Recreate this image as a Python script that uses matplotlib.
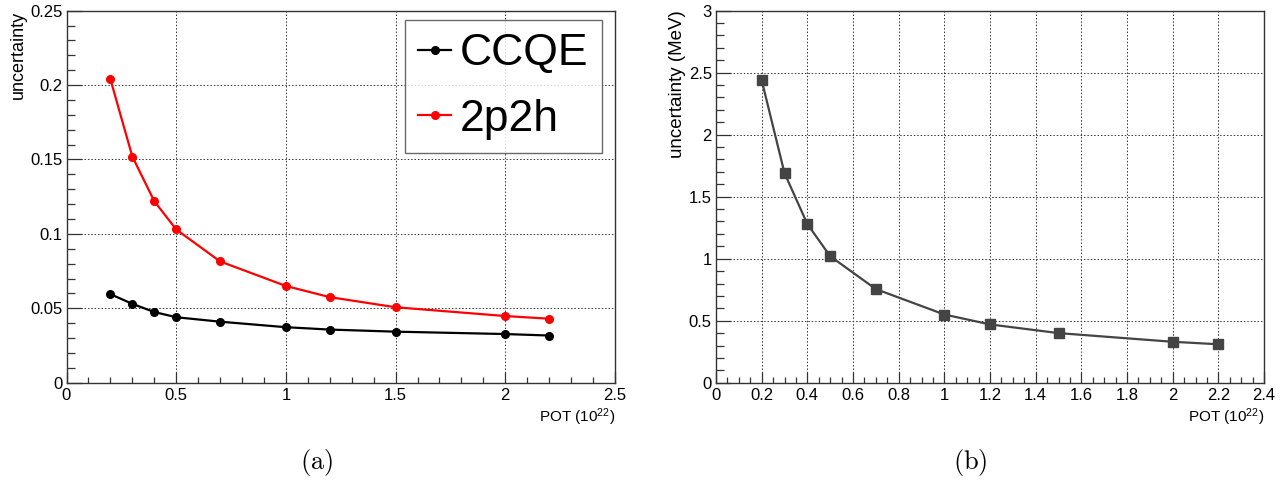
import numpy as np
import matplotlib
matplotlib.use("Agg")
import matplotlib.pyplot as plt
from matplotlib.ticker import MultipleLocator, FuncFormatter

plt.rcParams["font.family"] = ["Liberation Sans", "DejaVu Sans"]
plt.rcParams["mathtext.default"] = "regular"

# datos
pot = [0.2, 0.3, 0.4, 0.5, 0.7, 1.0, 1.2, 1.5, 2.0, 2.2]
ccqe = [0.0595, 0.053, 0.0475, 0.044, 0.041, 0.0373, 0.0357, 0.0343, 0.0327, 0.0317]
np2h = [0.204, 0.152, 0.122, 0.103, 0.0815, 0.065, 0.0575, 0.0507, 0.0448, 0.0430]
unc_mev = [2.44, 1.69, 1.28, 1.02, 0.755, 0.55, 0.47, 0.40, 0.33, 0.31]

fmt = FuncFormatter(lambda v, p: f"{v:g}")


def estilo_root(ax, xmaj, xmin, ymaj, ymin):
    ax.xaxis.set_major_locator(MultipleLocator(xmaj))
    ax.xaxis.set_minor_locator(MultipleLocator(xmin))
    ax.yaxis.set_major_locator(MultipleLocator(ymaj))
    ax.yaxis.set_minor_locator(MultipleLocator(ymin))
    ax.xaxis.set_major_formatter(fmt)
    ax.yaxis.set_major_formatter(fmt)
    ax.tick_params(which="both", direction="in", top=False, right=False,
                   labelsize=12, color="#333333", width=0.9)
    ax.tick_params(axis="x", which="major", length=8, pad=4)
    ax.tick_params(axis="x", which="minor", length=4)
    ax.tick_params(axis="y", which="major", length=11, pad=3)
    ax.tick_params(axis="y", which="minor", length=5.5)
    ax.grid(True, which="major", linestyle=(0, (1.5, 2)), color="#333333",
            linewidth=0.7)
    for s in ax.spines.values():
        s.set_color("#333333")
        s.set_linewidth(1.0)


fig = plt.figure(figsize=(12.88, 4.82), dpi=100)
ax1 = fig.add_axes([66.5 / 1288, 1 - 382.7 / 482, (615 - 66.5) / 1288, (382.7 - 10.7) / 482])
ax2 = fig.add_axes([716 / 1288, 1 - 382.7 / 482, (1264 - 716) / 1288, (382.7 - 10.7) / 482])

# panel (a)
ax1.plot(pot, ccqe, "-o", color="black", markersize=5.5, linewidth=1.6, label="CCQE")
ax1.plot(pot, np2h, "-o", color="#ff0000", markersize=5.5, linewidth=1.6, label="2p2h")
ax1.set_xlim(0, 2.5)
ax1.set_ylim(0, 0.25)
estilo_root(ax1, 0.5, 0.1, 0.05, 0.01)
ax1.set_xlabel("POT (10$^{22}$)", loc="right", fontsize=11, labelpad=2)
ax1.set_ylabel("uncertainty", loc="top", fontsize=13, labelpad=2)
leg = ax1.legend(loc="upper right", bbox_to_anchor=(602 / 1288, 1 - 20 / 482),
                 bbox_transform=fig.transFigure, fontsize=32, frameon=True,
                 fancybox=False, edgecolor="#444444", handlelength=0.75,
                 handletextpad=0.2, borderpad=0.3, labelspacing=0.55,
                 borderaxespad=0)
leg.get_frame().set_linewidth(1.0)

# panel (b)
ax2.plot(pot, unc_mev, "-s", color="#444444", markersize=6.5, linewidth=1.6)
ax2.set_xlim(0, 2.4)
ax2.set_ylim(0, 3)
estilo_root(ax2, 0.2, 0.05, 0.5, 0.1)
ax2.set_xlabel("POT (10$^{22}$)", loc="right", fontsize=11, labelpad=2)
ax2.set_ylabel("uncertainty (MeV)", loc="top", fontsize=13.5, labelpad=2)

fig.text(317 / 1288, 1 - 462 / 482, r"$\mathrm{(a)}$", fontsize=19,
         ha="center", va="center", math_fontfamily="cm")
fig.text(970 / 1288, 1 - 462 / 482, r"$\mathrm{(b)}$", fontsize=19,
         ha="center", va="center", math_fontfamily="cm")

plt.savefig("out.png", dpi=100)
